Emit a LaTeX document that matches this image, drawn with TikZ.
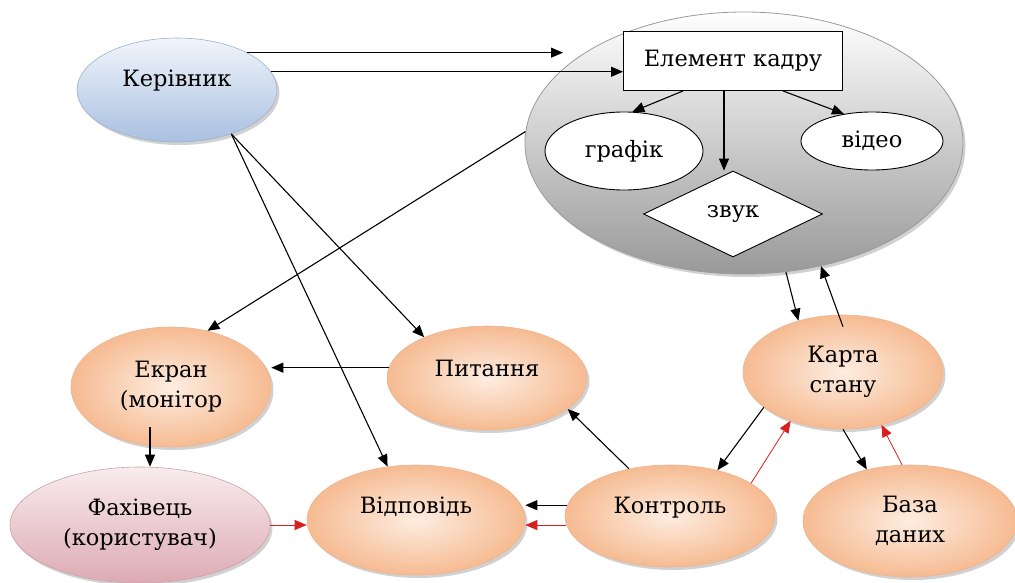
\documentclass[tikz,border=0pt]{standalone}
\usepackage{fontspec}
\setmainfont{DejaVu Serif}
\usetikzlibrary{shapes.geometric,arrows.meta,shadows}
\definecolor{peachin}{HTML}{FDEDE1}
\definecolor{peachout}{HTML}{F6BB92}
\definecolor{peachrim}{HTML}{EDB48E}
\definecolor{bluetop}{HTML}{F1F5FB}
\definecolor{bluebot}{HTML}{A9C0E0}
\definecolor{bluerim}{HTML}{9DB0CC}
\definecolor{rosetop}{HTML}{F8ECEE}
\definecolor{rosebot}{HTML}{DDAAB3}
\definecolor{roserim}{HTML}{CFA0A8}
\definecolor{greyrim}{HTML}{9A9A9A}
\definecolor{arrowred}{HTML}{D81E1E}
\begin{document}
\begin{tikzpicture}[x=1pt,y=1pt,
  every node/.style={font=\fontsize{22.5}{30}\selectfont, inner sep=0pt, align=center},
  softshadow/.style={drop shadow={shadow xshift=2.5pt, shadow yshift=-3pt, fill=black, opacity=.18}},
  peach/.style={ellipse, draw=peachrim, line width=.6pt, inner color=peachin, outer color=peachout, softshadow},
  boss/.style={ellipse, draw=bluerim, line width=.6pt, top color=bluetop, bottom color=bluebot, softshadow},
  rose/.style={ellipse, draw=roserim, line width=.6pt, top color=rosetop, bottom color=rosebot, softshadow},
  frameoval/.style={ellipse, draw=greyrim, line width=.8pt, top color=white, bottom color=black!40, softshadow},
  inner/.style={draw=black, line width=.9pt, fill=white},
  lift/.style={text height=16pt, text depth=#1},
  arr/.style={-{Triangle[length=12pt,width=10pt]}, line width=1.1pt, draw=black},
  redarr/.style={-{Triangle[length=12pt,width=10pt]}, line width=.8pt, draw=arrowred}
]
\useasboundingbox (0,0) rectangle (1015,-583);

% frame group
\node[frameoval, minimum width=438, minimum height=262] (big) at (744,-143) {};
\node[inner, rectangle, minimum width=219, minimum height=59] (frame) at (733,-61) {Елемент кадру};
\node[inner, ellipse, minimum width=158, minimum height=78] (graf) at (624,-151) {графік};
\node[inner, ellipse, minimum width=142, minimum height=58] (vid) at (872,-141) {відео};
\node[inner, diamond, minimum width=179, minimum height=86] (zvuk) at (733,-214) {звук};

% main nodes
\node[boss, minimum width=200, minimum height=104, lift=22pt] (ker) at (177,-90) {Керівник};
\node[peach, minimum width=200, minimum height=120] (ekr) at (171,-387) {Екран\\(монітор};
\node[rose, minimum width=260, minimum height=116] (fah) at (140,-525) {Фахівець\\(користувач)};
\node[peach, minimum width=200, minimum height=104, lift=20pt] (pyt) at (487,-378) {Питання};
\node[peach, minimum width=218, minimum height=110, lift=30pt] (vidp) at (416,-520) {Відповідь};
\node[peach, minimum width=210, minimum height=102, lift=22pt] (kon) at (670,-516) {Контроль};
\node[peach, minimum width=200, minimum height=114] (kar) at (843,-372) {Карта\\стану};
\node[peach, minimum width=214, minimum height=112] (baza) at (910,-521) {База\\даних};

% connectors inside the frame group
\draw[arr] ([xshift=-50pt]frame.south) -- (graf.78);
\draw[arr] ([xshift=50pt]frame.south) -- (vid.136);
\draw[arr] ([xshift=-9pt]frame.south) -- ([xshift=-9pt]frame.south |- zvuk.north);

% connectors from the manager
\coordinate (in1) at (563,-52);
\draw[arr] (ker.28) -- (ker.28 -| in1);
\draw[arr] (ker.11.5) -- (ker.11.5 -| frame.west);
\draw[arr] (ker.-39) -- (pyt.147);
\draw[arr] (ker.-39) -- (vidp.118);

% remaining black connectors
\draw[arr] (big.177) -- (ekr.57);
\draw[arr] (pyt.174) -- (pyt.174 -| ekr.east);
\draw[arr] ([shift={(-21pt,-40pt)}]ekr.center) -- ([xshift=-21pt]ekr.center |- fah.north);
\draw[arr] (kon.174.5) -- (kon.174.5 -| vidp.east);
\draw[arr] (kon.131) -- (pyt.-21);
\draw[arr] (kar.204) -- (kon.44);
\draw[arr] (kar.270) -- (baza.130);
\draw[arr] (big.-72.7) -- (kar.131);
\draw[arr] ([yshift=-12pt]kar.north) -- (big.-58.4);

% red connectors
\draw[redarr] (fah.east) -- (fah.east -| vidp.west);
\draw[redarr] (kon.185) -- (kon.185 -| vidp.east);
\draw[redarr] (kon.22.5) -- (kar.223);
\draw[redarr] (baza.98) -- (kar.-54.5);
\end{tikzpicture}
\end{document}
